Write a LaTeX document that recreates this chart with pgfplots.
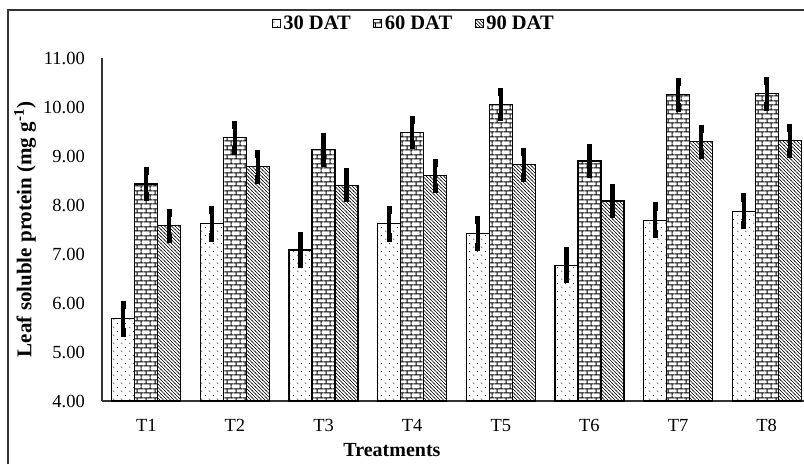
\documentclass[border=0pt]{standalone}
\usepackage{fontspec}
\setmainfont{Liberation Serif}
\usepackage{pgfplots}
\pgfplotsset{compat=1.18}
\usetikzlibrary{patterns.meta}

\tikzdeclarepattern{
  name=sparsedots,
  bounding box={(0,0) and (8pt,8pt)},
  tile size={(8pt,8pt)},
  code={
    \fill (2pt,2pt) circle (0.6pt);
    \fill (6pt,6pt) circle (0.6pt);
  }
}
\tikzdeclarepattern{
  name=mybricks,
  bounding box={(0,0) and (9pt,8.6pt)},
  tile size={(9pt,8.6pt)},
  code={
    \draw[line width=1.1pt] (-0.5pt,2.15pt) -- (9.5pt,2.15pt);
    \draw[line width=1.1pt] (-0.5pt,6.45pt) -- (9.5pt,6.45pt);
    \draw[line width=1.1pt] (2.25pt,2.15pt) -- (2.25pt,6.45pt);
    \draw[line width=1.1pt] (6.75pt,-0.5pt) -- (6.75pt,2.15pt);
    \draw[line width=1.1pt] (6.75pt,6.45pt) -- (6.75pt,9.1pt);
  }
}
\tikzdeclarepattern{
  name=nwlines,
  bounding box={(-0.5pt,-0.5pt) and (4pt,4pt)},
  tile size={(3.5pt,3.5pt)},
  code={
    \draw[line width=0.55pt] (-0.5pt,4pt) -- (4pt,-0.5pt);
  }
}

\begin{document}
\begin{tikzpicture}[x=1pt,y=1pt]
\useasboundingbox (0,0) rectangle (804,464);
\fill[white] (0,0) rectangle (804,464);
\draw[black!80, line width=1.3pt] (8,0) -- (8,454) -- (804,454);
\begin{axis}[
  at={(102pt,63pt)}, anchor=south west,
  scale only axis, width=709pt, height=343pt,
  ymin=4, ymax=11, ytick={4,5,...,11},
  xmin=0.5, xmax=8.5,
  xtick={1,...,8}, xticklabels={T1,T2,T3,T4,T5,T6,T7,T8},
  ybar=0pt, bar width=23pt,
  axis x line*=bottom, axis y line*=left,
  axis line style={black!80, line width=1.2pt},
  major tick length=0pt,
  /pgf/number format/fixed, /pgf/number format/fixed zerofill, /pgf/number format/precision=2,
  /pgf/number format/assume math mode=true,
  yticklabel style={font=\fontsize{18.5}{22}\selectfont, inner sep=0pt, anchor=east, xshift=-17pt},
  xticklabel style={font=\fontsize{18.5}{22}\selectfont, anchor=base, yshift=-30pt},
  xlabel={Treatments},
  xlabel style={font=\fontsize{20}{24}\selectfont\bfseries, at={(axis description cs:0.409,0)}, anchor=base, yshift=-55pt},
  ylabel={Leaf soluble protein (mg g\textsuperscript{-1})},
  ylabel style={font=\fontsize{21}{25}\selectfont\bfseries, at={(axis description cs:-0.1086,0.5)}, anchor=center},
  legend style={at={(axis description cs:0.4386,1.10)}, anchor=center, draw=none, fill=none,
    font=\fontsize{20.5}{24}\selectfont\bfseries,
    /tikz/every odd column/.append style={column sep=2pt},
    /tikz/every even column/.append style={column sep=22pt},
    nodes={inner sep=0.5pt}},
  legend columns=3,
  legend image code/.code={\draw[#1, line width=1.1pt] (0pt,-4pt) rectangle (8pt,4pt);},
  error bars/y dir=both, error bars/y explicit,
  error bars/error bar style={line width=4.2pt, black, solid},
  error bars/error mark options={line width=5pt, mark size=4.2pt, black, solid},
]
\addplot[draw=black, line width=1.2pt, pattern=sparsedots] coordinates {
  (1,5.68) +- (0,0.28) (2,7.62) +- (0,0.28) (3,7.08) +- (0,0.28) (4,7.62) +- (0,0.28)
  (5,7.42) +- (0,0.28) (6,6.77) +- (0,0.28) (7,7.69) +- (0,0.28) (8,7.87) +- (0,0.28)};
\addplot[draw=black, line width=1.2pt, pattern=mybricks] coordinates {
  (1,8.43) +- (0,0.26) (2,9.37) +- (0,0.26) (3,9.13) +- (0,0.26) (4,9.48) +- (0,0.26)
  (5,10.05) +- (0,0.26) (6,8.90) +- (0,0.26) (7,10.25) +- (0,0.26) (8,10.27) +- (0,0.26)};
\addplot[draw=black, line width=1.2pt, pattern=nwlines] coordinates {
  (1,7.58) +- (0,0.26) (2,8.78) +- (0,0.26) (3,8.40) +- (0,0.26) (4,8.60) +- (0,0.26)
  (5,8.82) +- (0,0.26) (6,8.08) +- (0,0.26) (7,9.29) +- (0,0.26) (8,9.31) +- (0,0.26)};
\legend{30 DAT, 60 DAT, 90 DAT}
\end{axis}
\end{tikzpicture}
\end{document}
